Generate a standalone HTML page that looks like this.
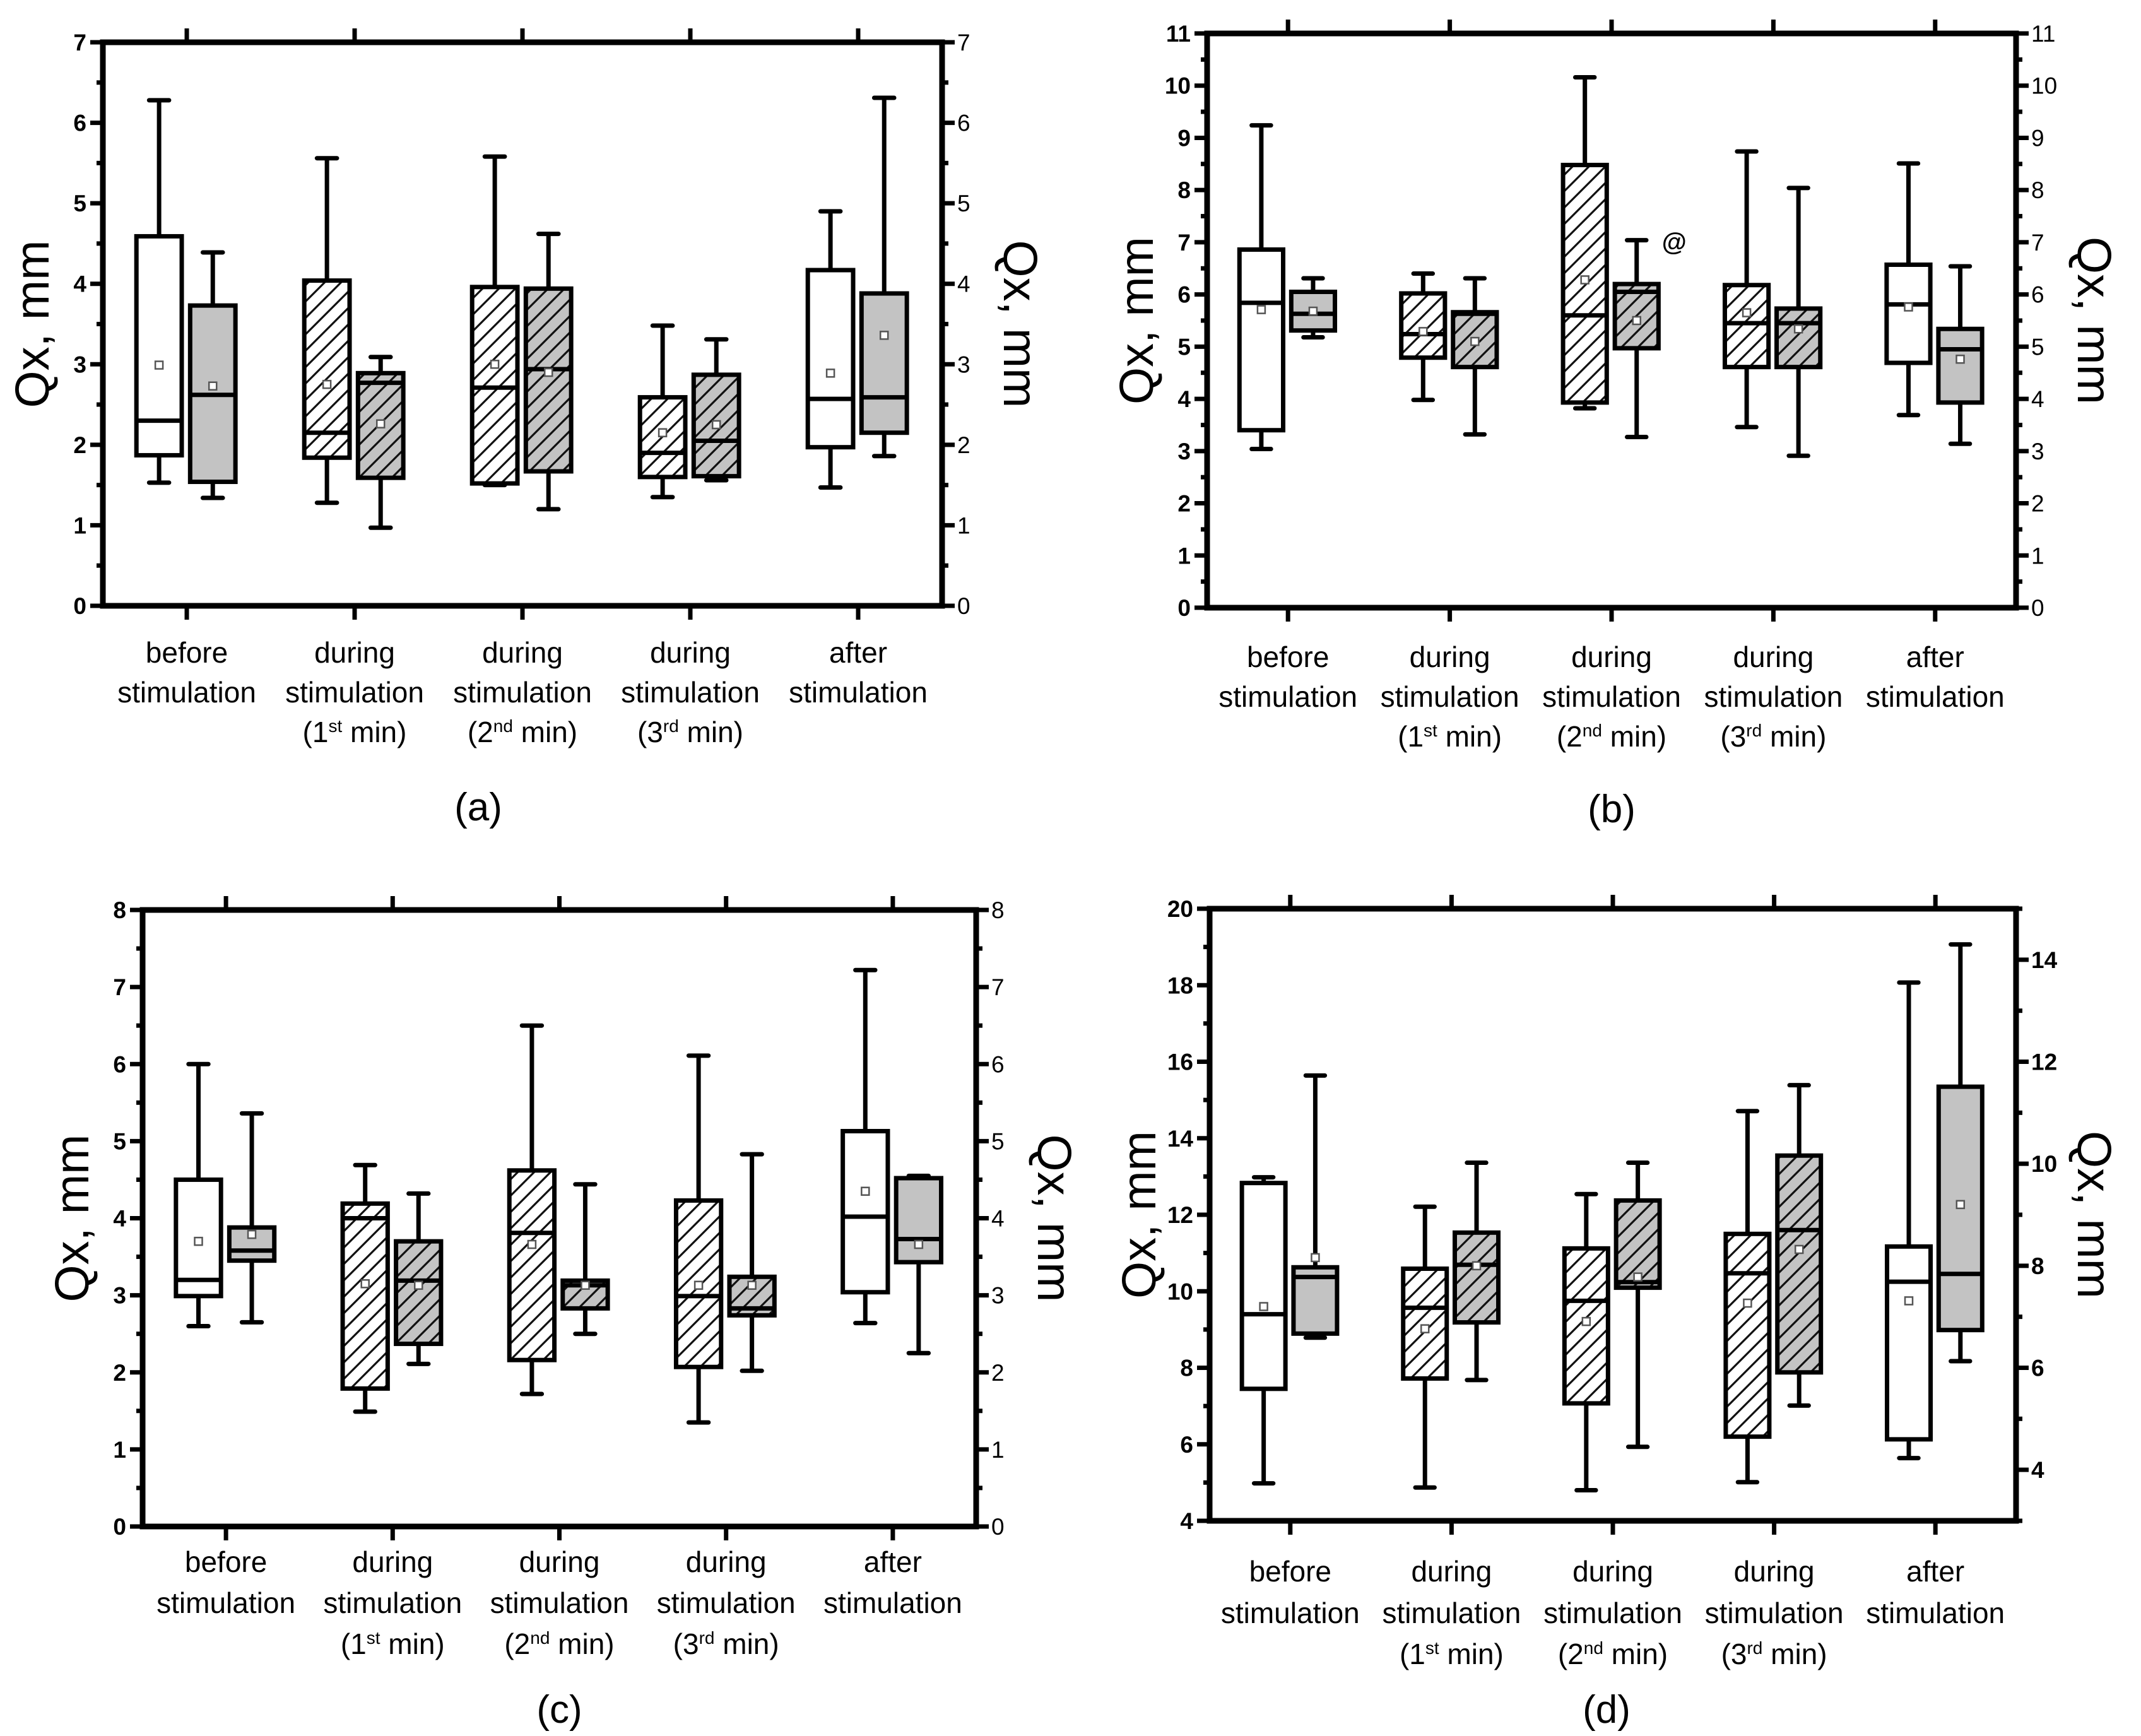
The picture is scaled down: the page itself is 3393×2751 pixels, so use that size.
<!DOCTYPE html>
<html><head><meta charset="utf-8"><style>
html,body{margin:0;padding:0;background:#fff}
svg{display:block}
text{font-family:"Liberation Sans",sans-serif}
</style></head><body>
<svg id="fig" xmlns="http://www.w3.org/2000/svg" width="3393" height="2751" viewBox="0 0 3393 2751">
<defs>
<pattern id="hatchW" patternUnits="userSpaceOnUse" width="26" height="26"><rect width="26" height="26" fill="#fff"/><path d="M-2,28 L28,-2 M-8,8 L8,-8 M18,34 L34,18" stroke="#111" stroke-width="3.2"/></pattern>
<pattern id="hatchG" patternUnits="userSpaceOnUse" width="26" height="26"><rect width="26" height="26" fill="#c3c3c3"/><path d="M-2,28 L28,-2 M-8,8 L8,-8 M18,34 L34,18" stroke="#111" stroke-width="3.2"/></pattern>
</defs>
</svg>
<script>
// ---- data (panel a) ----
const catLabels1 = ["before","during","during","during","after"];
const catLabels2 = ["stimulation","stimulation","stimulation","stimulation","stimulation"];
const catLabels3 = ["","1|st","2|nd","3|rd",""];
const hatched = [false,true,true,true,false];

const aWMax=[6.28,5.56,5.58,3.48,4.90], aWQ3=[4.59,4.04,3.96,2.59,4.17], aWMed=[2.30,2.15,2.71,1.90,2.57], aWQ1=[1.87,1.84,1.52,1.60,1.97], aWMin=[1.53,1.28,1.50,1.35,1.47], aWMean=[2.99,2.75,3.00,2.15,2.89];
const aGMax=[4.39,3.09,4.62,3.31,6.31], aGQ3=[3.73,2.89,3.94,2.87,3.88], aGMed=[2.62,2.77,2.94,2.05,2.59], aGQ1=[1.54,1.59,1.67,1.61,2.15], aGMin=[1.34,0.97,1.20,1.56,1.86], aGMean=[2.73,2.26,2.90,2.25,3.36];
// ---- panel b ----
const bWMax=[9.24,6.40,10.16,8.74,8.51], bWQ3=[6.86,6.02,8.48,6.18,6.57], bWMed=[5.84,5.24,5.60,5.45,5.81], bWQ1=[3.40,4.79,3.93,4.61,4.69], bWMin=[3.04,3.98,3.82,3.46,3.69], bWMean=[5.71,5.29,6.28,5.65,5.76];
const bGMax=[6.31,6.31,7.04,8.04,6.54], bGQ3=[6.05,5.66,6.20,5.73,5.34], bGMed=[5.63,5.63,6.05,5.45,4.95], bGQ1=[5.31,4.61,4.97,4.61,3.93], bGMin=[5.18,3.32,3.27,2.91,3.14], bGMean=[5.68,5.10,5.50,5.34,4.76];
// ---- panel c ----
const cWMax=[6.00,4.69,6.50,6.11,7.22], cWQ3=[4.50,4.19,4.62,4.23,5.13], cWMed=[3.20,4.00,3.81,2.99,4.02], cWQ1=[2.99,1.79,2.16,2.07,3.04], cWMin=[2.60,1.49,1.72,1.35,2.64], cWMean=[3.70,3.15,3.66,3.13,4.35];
const cGMax=[5.36,4.32,4.44,4.83,4.55], cGQ3=[3.88,3.70,3.19,3.24,4.52], cGMed=[3.58,3.19,3.13,2.83,3.73], cGQ1=[3.45,2.37,2.83,2.74,3.43], cGMin=[2.65,2.11,2.50,2.02,2.25], cGMean=[3.79,3.13,3.13,3.13,3.66];
// ---- panel d (white: left axis, grey: right axis) ----
const dWMax=[12.98,12.21,12.54,14.71,18.07], dWQ3=[12.83,10.59,11.12,11.50,11.17], dWMed=[9.40,9.57,9.75,10.47,10.25], dWQ1=[7.45,7.72,7.07,6.20,6.13], dWMin=[4.98,4.87,4.80,5.01,5.64], dWMean=[9.60,9.02,9.21,9.69,9.75];
const dGMax=[11.73,10.02,10.02,11.54,14.30], dGQ3=[7.97,8.65,9.28,10.16,11.51], dGMed=[7.78,8.02,7.68,8.70,7.84], dGQ1=[6.67,6.89,7.57,5.91,6.74], dGMin=[6.59,5.76,4.45,5.26,6.13], dGMean=[8.16,8.00,7.78,8.32,9.20];

const aTicks=[0,1,2,3,4,5,6,7], bTicks=[0,1,2,3,4,5,6,7,8,9,10,11], cTicks=[0,1,2,3,4,5,6,7,8];
const dTicksL=[4,6,8,10,12,14,16,18,20], dTicksR=[4,6,8,10,12,14];

const NS="http://www.w3.org/2000/svg";
const svg=document.getElementById('fig');
function mk(tag,attrs,parent){const e=document.createElementNS(NS,tag);for(const k in attrs)e.setAttribute(k,attrs[k]);(parent||svg).appendChild(e);return e;}

function panel(p){
  const g=mk('g',{});
  
  
  const yL=v=>p.y1-(v-p.lmin)/(p.lmax-p.lmin)*(p.y1-p.y0);
  const yR=v=>p.y1-(v-p.rmin)/(p.rmax-p.rmin)*(p.y1-p.y0);
  const band=(p.x1-p.x0)/5;
  const cx=i=>p.x0+band*(i+0.5);
  const fr=mk('rect',{x:p.x0,y:p.y0,width:p.x1-p.x0,height:p.y1-p.y0,fill:'none',stroke:'#000','stroke-width':9},g);
  
  
  for(let v=p.lmin;v<=p.lmax+1e-9;v+=p.lminor){
    const major=Math.abs(v/p.lmajor-Math.round(v/p.lmajor))<1e-6;
    mk('line',{x1:p.x0,x2:p.x0-(major?20:10),y1:yL(v),y2:yL(v),stroke:'#000','stroke-width':7},g);
  }
  p.lticks.forEach(v=>{
    const t=mk('text',{x:p.x0-26,y:yL(v)+13,'text-anchor':'end','font-size':37,'font-weight':'bold'},g);
    t.textContent=v;
    
    
  });
  const rs=p.rminorStart!==undefined?p.rminorStart:p.rmin;
  for(let v=rs;v<=p.rmax+1e-9;v+=p.rminor){
    const major=Math.abs(v/p.rmajor-Math.round(v/p.rmajor))<1e-6;
    mk('line',{x1:p.x1,x2:p.x1+(major?20:10),y1:yR(v),y2:yR(v),stroke:'#000','stroke-width':7},g);
  }
  p.rticks.forEach(v=>{
    const t=mk('text',{x:p.x1+24,y:yR(v)+13,'text-anchor':'start','font-size':37,'font-weight':p.rbold?'bold':'normal'},g);
    t.textContent=v;
    
    
  });
  for(let i=0;i<5;i++){
    mk('line',{x1:cx(i),x2:cx(i),y1:p.y0,y2:p.y0-22,stroke:'#000','stroke-width':7},g);
    mk('line',{x1:cx(i),x2:cx(i),y1:p.y1,y2:p.y1+22,stroke:'#000','stroke-width':7},g);
  }
  const ym=(p.y0+p.y1)/2;
  const tl=mk('text',{x:p.x0-112,y:ym,'text-anchor':'middle','font-size':76,transform:`rotate(-90 ${p.x0-112} ${ym})`,dy:26},g);
  tl.textContent='Qx, mm';
  
  
  const tr=mk('text',{x:p.x1+124,y:ym,'text-anchor':'middle','font-size':76,transform:`rotate(90 ${p.x1+124} ${ym})`,dy:26},g);
  tr.textContent='Qx, mm';
  
  
  for(let i=0;i<5;i++){
    const l1=mk('text',{x:cx(i),y:p.ly[0],'text-anchor':'middle','font-size':46},g);
    l1.textContent=catLabels1[i];
    
    
    const l2=mk('text',{x:cx(i),y:p.ly[1],'text-anchor':'middle','font-size':46},g);
    l2.textContent=catLabels2[i];
    
    
    if(catLabels3[i]){
      const parts=catLabels3[i].split('|');
      const l3=mk('text',{x:cx(i),y:p.ly[2],'text-anchor':'middle','font-size':46},g);
      
      
      const a=mk('tspan',{},l3);a.textContent='('+parts[0];
      const s=mk('tspan',{'font-size':28,dy:-16},l3);s.textContent=parts[1];
      const b=mk('tspan',{dy:16},l3);b.textContent=' min)';
    }
  }
  const pl=mk('text',{x:(p.x0+p.x1)/2+(p.pdx||0),y:p.py,'text-anchor':'middle','font-size':62},g);
  pl.textContent='('+p.id+')';
  
  
  const bw=band*0.27;
  const series=[{s:p.W,off:-0.165,grey:false,y:yL},{s:p.G,off:0.155,grey:true,y:p.gRight?yR:yL}];
  series.forEach(se=>{
    for(let i=0;i<5;i++){
      const c=cx(i)+se.off*band, Y=se.y;
      const bg=mk('g',{},g);
      
      
      const wmax=Y(se.s.max[i]),q3=Y(se.s.q3[i]),med=Y(se.s.med[i]),q1=Y(se.s.q1[i]),wmin=Y(se.s.min[i]);
      mk('line',{x1:c,x2:c,y1:wmax,y2:q3,stroke:'#000','stroke-width':7},bg);
      mk('line',{x1:c,x2:c,y1:q1,y2:wmin,stroke:'#000','stroke-width':7},bg);
      mk('line',{x1:c-bw*0.22,x2:c+bw*0.22,y1:wmax,y2:wmax,stroke:'#000','stroke-width':7,'stroke-linecap':'round'},bg);
      mk('line',{x1:c-bw*0.22,x2:c+bw*0.22,y1:wmin,y2:wmin,stroke:'#000','stroke-width':7,'stroke-linecap':'round'},bg);
      const fill=hatched[i]?(se.grey?'url(#hatchG)':'url(#hatchW)'):(se.grey?'#c3c3c3':'#fff');
      mk('rect',{x:c-bw/2,y:q3,width:bw,height:Math.max(q1-q3,1),fill:fill,stroke:'#000','stroke-width':7},bg);
      mk('line',{x1:c-bw/2,x2:c+bw/2,y1:med,y2:med,stroke:'#000','stroke-width':7},bg);
      const mn=Y(se.s.mean[i]);
      mk('rect',{x:c-6,y:mn-6,width:12,height:12,fill:'#fff',stroke:'#555','stroke-width':2.5},bg);
    }
  });
  return {g,yL,cx,band};
}

panel({id:'a',x0:163,x1:1493,y0:67,y1:960,lmin:0,lmax:7,rmin:0,rmax:7,lmajor:1,lminor:0.5,rmajor:1,rminor:0.5,lticks:aTicks,rticks:aTicks,rbold:false,ly:[1050,1113,1176],py:1300,pdx:-70,
  W:{max:aWMax,q3:aWQ3,med:aWMed,q1:aWQ1,min:aWMin,mean:aWMean},G:{max:aGMax,q3:aGQ3,med:aGMed,q1:aGQ1,min:aGMin,mean:aGMean}});
const pb=panel({id:'b',x0:1913,x1:3195,y0:53,y1:963,lmin:0,lmax:11,rmin:0,rmax:11,lmajor:1,lminor:0.5,rmajor:1,rminor:0.5,lticks:bTicks,rticks:bTicks,rbold:false,ly:[1057,1120,1183],py:1303,
  W:{max:bWMax,q3:bWQ3,med:bWMed,q1:bWQ1,min:bWMin,mean:bWMean},G:{max:bGMax,q3:bGQ3,med:bGMed,q1:bGQ1,min:bGMin,mean:bGMean}});
panel({id:'c',x0:226,x1:1547,y0:1442,y1:2419,lmin:0,lmax:8,rmin:0,rmax:8,lmajor:1,lminor:0.5,rmajor:1,rminor:0.5,lticks:cTicks,rticks:cTicks,rbold:false,ly:[2491,2556,2621],py:2730,
  W:{max:cWMax,q3:cWQ3,med:cWMed,q1:cWQ1,min:cWMin,mean:cWMean},G:{max:cGMax,q3:cGQ3,med:cGMed,q1:cGQ1,min:cGMin,mean:cGMean}});
panel({id:'d',x0:1917,x1:3195,y0:1440,y1:2410,lmin:4,lmax:20,rmin:3,rmax:15,lmajor:2,lminor:1,rmajor:2,rminor:1,rminorStart:3,lticks:dTicksL,rticks:dTicksR,rbold:true,gRight:true,ly:[2506,2572,2637],py:2730,pdx:-10,
  W:{max:dWMax,q3:dWQ3,med:dWMed,q1:dWQ1,min:dWMin,mean:dWMean},G:{max:dGMax,q3:dGQ3,med:dGMed,q1:dGQ1,min:dGMin,mean:dGMean}});
const at=mk('text',{x:pb.cx(2)+pb.band*0.155+40,y:pb.yL(6.85),'font-size':40,'font-weight':'bold'});
at.textContent='@';


</script>
</body></html>
